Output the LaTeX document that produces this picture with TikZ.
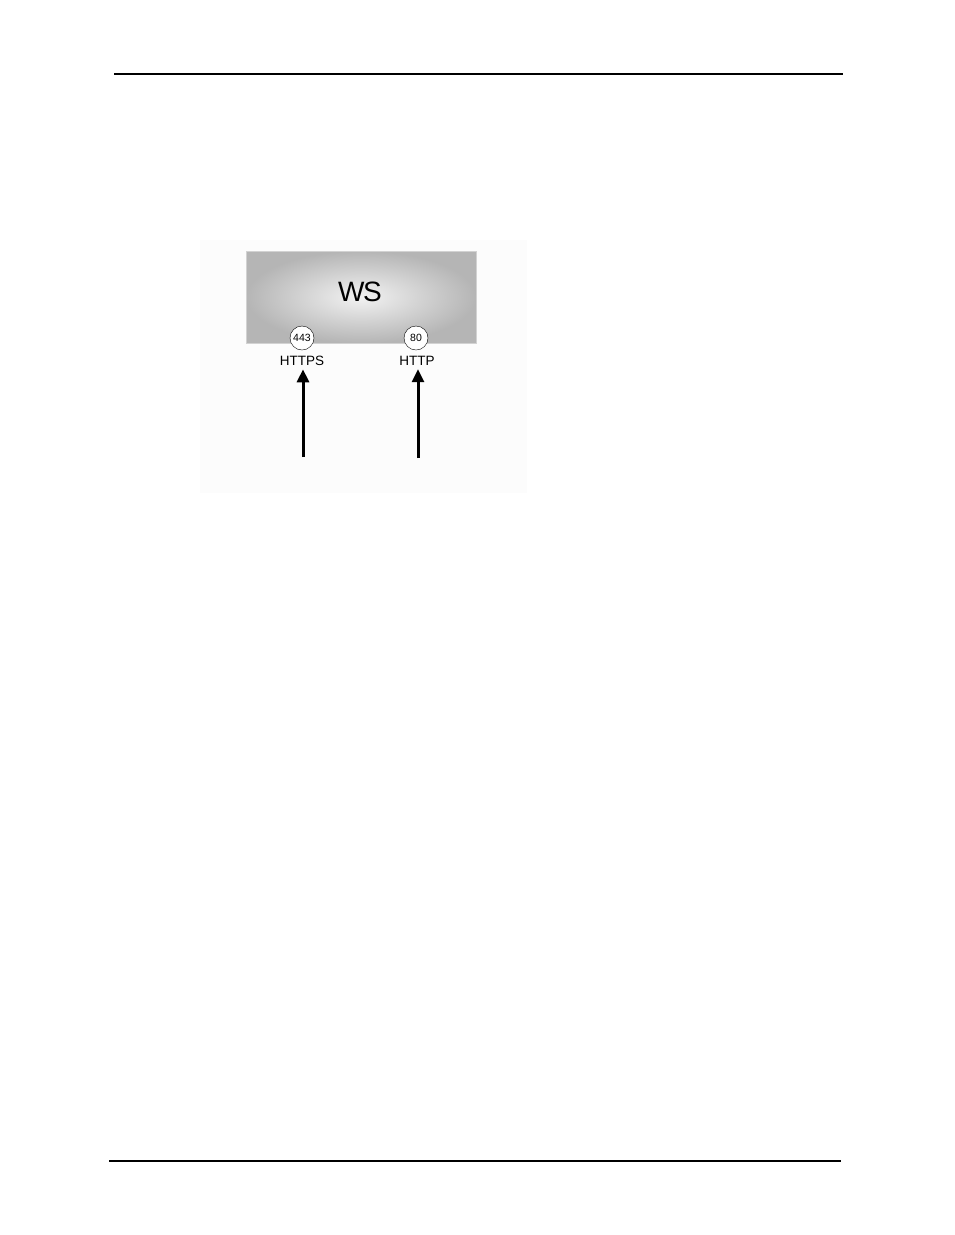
\documentclass[tikz,border=0pt]{standalone}
\usepackage{fontspec}
\setmainfont{Liberation Sans}
\usetikzlibrary{arrows.meta}
\begin{document}
\begin{tikzpicture}[x=1pt,y=-1pt]
		\tikzset{port/.style = {shape=circle,draw, fill=white, inner sep = 0pt, minimum size=24pt, font=\fontsize{10.5}{11}\selectfont},
			proto/.style = {font=\fontsize{13.5}{14}\selectfont},
			flow/.style = {line width=3pt, -{Triangle[length=13pt,width=12pt]}}}

		\useasboundingbox (0,0) rectangle (954,1235);

		%page rules
		\draw[line width=1.2pt] (114,74) -- (843,74);
		\draw[line width=1.2pt] (109,1161) -- (841,1161);

		%figure
		\fill[gray!2] (200,240) rectangle (527,493);
		\shade[inner color=gray!10, outer color=gray!58] (246,251) rectangle (476,343);
		\draw[gray!35, line width=0.6pt] (246,251) rectangle (476,343);
		\node[font=\fontsize{28}{30}\selectfont] (WS) at (360,292) {W\kern-1.5pt S};

		\node[port] (P_1) at (302,338) {443};
		\node[port] (P_2) at (416,338) {80};

		\node[proto] (L_1) at (302,361) {HTTPS};
		\node[proto] (L_2) at (417,361) {HTTP};

		\coordinate (S_1) at (303,457);
		\coordinate (S_2) at (418,458);

		%arrows
		\draw[flow] (S_1) -- (L_1.south -| S_1);
		\draw[flow] (S_2) -- (L_2.south -| S_2);

	\end{tikzpicture}
\end{document}
